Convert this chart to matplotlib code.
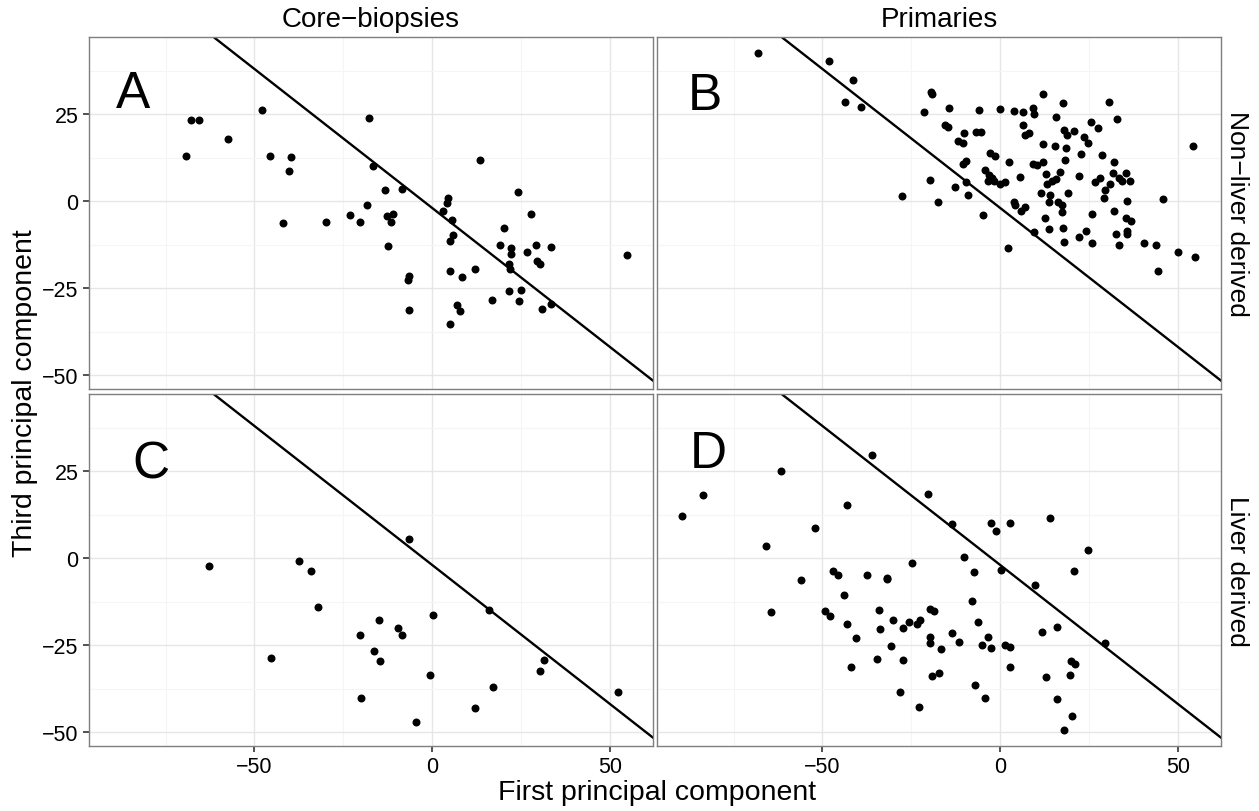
import numpy as np
import matplotlib
matplotlib.use("Agg")
import matplotlib.pyplot as plt
from matplotlib.ticker import FixedLocator

plt.rcParams["font.family"] = ["Liberation Sans", "DejaVu Sans"]

# panel A: core-biopsies, non-liver derived
a_x = [-67.9, -65.6, -57.5, -69.1, -47.9, -45.6, -39.6, -40.2, -42.1, -29.9,
       -23.2, -20.4, -18.5, -17.9, -16.7, -13.3, -8.5, -12.7, -11.1, -11.5,
       -12.4, -6.7, -6.9, -6.6, 4.4, 4.0, 3.0, 5.4, 5.8, 4.9,
       13.5, 4.9, 8.3, 12.0, 7.0, 7.7, 5.0, 16.7, 20.1, 18.9,
       22.2, 22.1, 21.4, 21.9, 24.0, 27.8, 26.5, 29.1, 29.4, 30.3,
       33.2, 21.4, 24.9, 24.4, 30.9, 33.2, 54.7]
a_y = [23.4, 23.2, 17.9, 13.1, 26.1, 12.9, 12.7, 8.7, -6.4, -5.9,
       -4.1, -6.0, -1.1, 23.8, 10.1, 3.2, 3.4, -4.2, -3.7, -6.0,
       -13.0, -21.6, -22.8, -31.3, 1.0, -0.5, -2.9, -5.3, -9.6, -11.4,
       11.9, -20.1, -21.7, -19.6, -29.9, -31.6, -35.2, -28.5, -7.6, -12.5,
       -13.4, -15.3, -18.1, -19.6, 2.7, -3.8, -14.7, -12.5, -17.2, -18.1,
       -13.3, -25.7, -25.4, -28.7, -30.9, -29.5, -15.6]

# panel B: primaries, non-liver derived
b_x = [-68.2, -48.3, -41.3, -43.7, -39.2, -27.7, -19.6, -19.3, -21.5, -14.3,
       -15.5, -14.8, -6.0, 0.0, 3.9, 6.4, 9.1, 9.4, 11.9, 17.5,
       30.4, 32.9, 15.5, 6.3, 8.0, 6.9, 25.5, 27.3, 17.8, 18.7,
       20.7, 23.6, 24.6, -10.3, -10.4, -11.8, -6.8, -5.4, 12.1, 15.4,
       18.5, -3.0, -1.6, -9.8, -10.5, 2.3, 9.1, 10.4, 12.0, 18.3,
       22.6, 28.5, 31.9, -4.3, -3.2, -2.3, -3.5, -1.7, 0.0, 1.3,
       5.5, 12.8, 13.1, 14.4, 15.6, 16.8, 22.1, 26.7, 28.0, 29.4,
       30.7, 31.7, 33.3, 34.2, 35.2, 36.5, -19.8, -12.7, -9.7, -9.0,
       -17.4, 11.4, 14.0, 13.7, 19.0, 29.0, 35.5, 45.6, 3.8, 4.2,
       6.9, 5.7, 16.1, 17.2, 17.4, 25.7, 31.9, 35.2, 36.6, -4.8,
       12.6, 9.4, 13.8, 17.6, 22.2, 24.2, 32.6, 35.7, 35.7, 18.0,
       25.8, 33.4, 40.4, 43.8, 49.8, 54.6, 44.4, 54.1, 2.1]
b_y = [42.5, 40.3, 34.9, 28.6, 27.1, 1.4, 31.3, 30.9, 25.7, 26.9,
       21.9, 21.4, 26.1, 26.5, 26.0, 25.7, 26.7, 25.2, 30.7, 28.3,
       28.6, 23.6, 24.2, 22.0, 19.5, 19.1, 22.9, 21.1, 20.6, 19.1,
       20.2, 18.4, 16.7, 19.6, 16.8, 17.4, 19.8, 19.8, 16.4, 15.9,
       15.4, 13.9, 13.1, 11.5, 10.7, 11.3, 10.8, 10.4, 11.3, 11.8,
       13.6, 13.2, 11.3, 8.9, 7.4, 6.7, 5.7, 5.9, 4.8, 5.6,
       7.0, 7.7, 4.8, 5.7, 6.4, 8.3, 7.3, 5.4, 6.8, 3.3,
       4.9, 8.1, 6.8, 5.9, 8.2, 5.9, 6.2, 4.0, 5.5, 1.9,
       -0.1, 2.4, 1.9, -0.1, 2.4, 0.8, 0.1, 0.7, -0.2, -1.1,
       -1.8, -2.8, -0.3, -1.0, -3.2, -3.7, -2.7, -4.9, -5.8, -4.1,
       -4.9, -9.0, -7.9, -7.6, -10.2, -8.6, -9.3, -8.5, -9.5, -11.8,
       -11.9, -12.7, -11.9, -12.5, -14.5, -16.1, -20.1, 15.9, -13.4]

# panel C: core-biopsies, liver derived
c_x = [-62.9, -37.4, -34.2, -32.1, -45.3, -6.6, -15.1, -9.7, -8.4, -20.4,
       -16.3, -14.8, 0.2, -0.7, -20.2, -4.5, 16.0, 11.9, 17.1, 31.5,
       30.2, 52.1]
c_y = [-2.3, -0.7, -3.8, -14.0, -28.6, 5.4, -17.8, -20.0, -22.1, -22.2,
       -26.8, -29.6, -16.3, -33.5, -40.2, -47.2, -14.9, -43.1, -37.0, -29.4,
       -32.3, -38.5]

# panel D: primaries, liver derived
d_x = [-89.4, -83.6, -61.7, -65.9, -64.6, -36.2, -43.2, -52.2, -56.0, -47.1,
       -45.7, -43.9, -49.3, -48.0, -43.0, -40.5, -42.0, -37.5, -32.0, -31.9,
       -34.2, -33.7, -30.1, -30.6, -34.6, -27.3, -28.1, -27.5, -25.8, -23.5,
       -22.5, -24.7, -23.0, -20.4, -19.9, -18.6, -19.8, -19.9, -16.7, -19.1,
       -17.2, -13.6, -13.7, -11.5, -10.1, -7.5, -8.0, -6.3, -3.5, -5.1,
       -2.5, -7.1, -4.2, -2.7, -1.1, 2.7, 0.1, 1.4, 2.8, 2.8,
       14.0, 9.6, 11.8, 15.9, 12.8, 15.8, 17.8, 20.0, 19.6, 19.8,
       20.9, 20.7, 24.5, 29.5]
d_y = [12.0, 18.2, 25.1, 3.5, -15.4, 29.8, 15.4, 8.8, -6.3, -3.8,
       -4.7, -10.6, -15.3, -16.5, -19.0, -22.9, -31.4, -4.7, -5.6, -6.0,
       -15.0, -20.4, -17.8, -25.2, -28.9, -29.3, -38.4, -20.2, -18.3, -18.9,
       -17.7, -1.5, -42.9, 18.5, -14.6, -15.3, -22.8, -24.3, -26.2, -33.9,
       -32.9, 9.8, -21.4, -24.1, 0.3, -4.0, -12.4, -18.3, -22.8, -25.1,
       -25.7, -36.5, -40.1, 10.1, 7.8, 10.0, -3.3, -24.9, -25.6, -31.2,
       11.5, -7.7, -21.2, -19.8, -34.2, -40.6, -49.5, -45.3, -33.5, -29.7,
       -30.4, -3.7, 2.4, -24.5]

panel_letters = ["A", "B", "C", "D"]
letter_x = [-84, -83, -79, -82]
letter_y = [31, 30.5, 27, 30]
col_labels = ["Core\u2212biopsies", "Primaries"]
row_labels = ["Non\u2212liver derived", "Liver derived"]

# separating line y = intercept + slope * x
line_intercept = -2.0
line_slope = -0.8

x_ticks = [-50, 0, 50]
y_ticks = [-50, -25, 0, 25]
x_minor = [-75, -25, 25]
y_minor = [-37.5, -12.5, 12.5, 37.5]
xlim = (-96.5, 62.0)
ylim = (-54.0, 47.2)

W, H = 1259, 812
fig = plt.figure(figsize=(W / 100, H / 100), dpi=100)

col_px = [(89, 653), (657, 1221)]
row_px = [(38, 390), (395, 747)]

panels = [(a_x, a_y), (b_x, b_y), (c_x, c_y), (d_x, d_y)]

for i, (px, py) in enumerate(panels):
    r, c = divmod(i, 2)
    x0, x1 = col_px[c]
    y0, y1 = row_px[r]
    ax = fig.add_axes([x0 / W, 1 - y1 / H, (x1 - x0) / W, (y1 - y0) / H])
    ax.set_xlim(*xlim)
    ax.set_ylim(*ylim)
    ax.xaxis.set_major_locator(FixedLocator(x_ticks))
    ax.yaxis.set_major_locator(FixedLocator(y_ticks))
    ax.xaxis.set_minor_locator(FixedLocator(x_minor))
    ax.yaxis.set_minor_locator(FixedLocator(y_minor))
    ax.grid(which="major", color="#E6E6E6", lw=1.0)
    ax.grid(which="minor", color="#F5F5F5", lw=0.8)
    ax.set_axisbelow(True)
    ax.tick_params(which="minor", length=0)
    ax.tick_params(which="major", length=4.5, width=1.2, color="#333333",
                   labelsize=15.5, labelcolor="black", pad=3)
    for s in ax.spines.values():
        s.set_color("#7F7F7F")
        s.set_linewidth(1.0)
    if c == 1:
        ax.tick_params(axis="y", length=0, labelleft=False)
    if r == 0:
        ax.tick_params(axis="x", length=0, labelbottom=False)

    ax.scatter(px, py, s=33, color="black", linewidths=0, zorder=3)
    ax.axline((0, line_intercept), slope=line_slope, color="black", lw=1.7, zorder=2)
    ax.text(letter_x[i], letter_y[i], panel_letters[i], fontsize=37,
            ha="center", va="center")

    if r == 0:
        ax.text(0.5, 1.0 + 18 / (y1 - y0), col_labels[c], transform=ax.transAxes,
                ha="center", va="center", fontsize=20)
    if c == 1:
        ax.text(1.0 + 16 / (x1 - x0), 0.5, row_labels[r], transform=ax.transAxes,
                ha="center", va="center", rotation=-90, fontsize=19)

fig.text(657 / W, 1 - 793 / H, "First principal component", ha="center",
         va="center", fontsize=20.5)
fig.text(25 / W, 1 - 393 / H, "Third principal component", ha="center",
         va="center", rotation=90, fontsize=20.5)

fig.savefig("out.png", dpi=100, facecolor="white")
